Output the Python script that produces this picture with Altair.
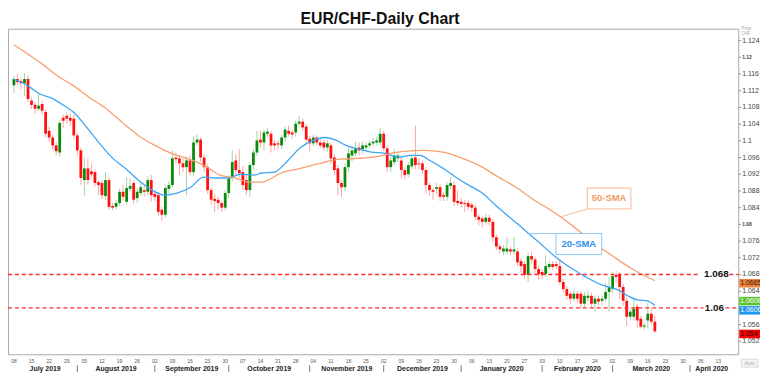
import altair as alt
import pandas as pd

# ---------------- data ----------------
opens = [
    1.1133, 1.1148, 1.1143, 1.1138, 1.1148, 1.1096, 1.1086, 1.1077, 1.1088, 1.1069,
    1.1024, 1.1008, 1.0989, 1.0972, 1.1055, 1.1060, 1.1055, 1.1053, 1.1013, 1.0977,
    1.0906, 1.0934, 1.0927, 1.0925, 1.0901, 1.0899, 1.0868, 1.0906, 1.0844, 1.0842,
    1.0851, 1.0878, 1.0854, 1.0885, 1.0899, 1.0863, 1.0875, 1.0882, 1.0878, 1.0906,
    1.0873, 1.0870, 1.0835, 1.0823, 1.0885, 1.0894, 1.0960, 1.0958, 1.0946, 1.0937,
    1.0953, 1.0925, 1.0996, 1.1003, 1.0960, 1.0937, 1.0882, 1.0861, 1.0859, 1.0851,
    1.0840, 1.0875, 1.0911, 1.0953, 1.0930, 1.0925, 1.0906, 1.0882, 1.0942, 1.0972,
    1.1003, 1.0996, 1.1017, 1.1017, 1.0994, 1.0994, 1.0989, 1.1008, 1.1024, 1.1020,
    1.1020, 1.1041, 1.1046, 1.1034, 1.1005, 1.0994, 1.1008, 1.0996, 1.0996, 1.0984,
    1.0989, 1.0960, 1.0934, 1.0899, 1.0889, 1.0937, 1.0965, 1.0970, 1.0984, 1.0980,
    1.0984, 1.0989, 1.0994, 1.0996, 1.0996, 1.1017, 1.0982, 1.0937, 1.0949, 1.0958,
    1.0953, 1.0930, 1.0920, 1.0939, 1.0960, 1.0946, 1.0946, 1.0930, 1.0894, 1.0882,
    1.0885, 1.0889, 1.0870, 1.0866, 1.0892, 1.0894, 1.0856, 1.0854, 1.0851, 1.0851,
    1.0847, 1.0840, 1.0818, 1.0814, 1.0806, 1.0816, 1.0806, 1.0769, 1.0747, 1.0735,
    1.0735, 1.0740, 1.0735, 1.0735, 1.0712, 1.0705, 1.0679, 1.0724, 1.0716, 1.0693,
    1.0686, 1.0681, 1.0698, 1.0705, 1.0705, 1.0700, 1.0662, 1.0645, 1.0634, 1.0622,
    1.0634, 1.0634, 1.0610, 1.0624, 1.0629, 1.0610, 1.0622, 1.0617, 1.0622, 1.0638,
    1.0645, 1.0679, 1.0679, 1.0650, 1.0617, 1.0579, 1.0579, 1.0603, 1.0574, 1.0555,
    1.0570, 1.0586, 1.0567,
]
closes = [
    1.1148, 1.1141, 1.1138, 1.1148, 1.1100, 1.1086, 1.1077, 1.1084, 1.1072, 1.1017,
    1.1008, 1.0989, 1.0975, 1.1043, 1.1048, 1.1053, 1.1048, 1.1013, 1.0977, 1.0911,
    1.0934, 1.0906, 1.0920, 1.0899, 1.0894, 1.0870, 1.0906, 1.0842, 1.0840, 1.0851,
    1.0878, 1.0866, 1.0887, 1.0892, 1.0859, 1.0878, 1.0889, 1.0878, 1.0906, 1.0870,
    1.0866, 1.0830, 1.0823, 1.0887, 1.0894, 1.0958, 1.0956, 1.0946, 1.0937, 1.0953,
    1.0925, 1.0996, 1.1003, 1.0960, 1.0937, 1.0882, 1.0859, 1.0856, 1.0851, 1.0840,
    1.0875, 1.0911, 1.0949, 1.0930, 1.0923, 1.0894, 1.0882, 1.0942, 1.0972, 1.1001,
    1.0996, 1.1020, 1.1022, 1.0989, 1.0989, 1.0991, 1.1008, 1.1027, 1.1017, 1.1015,
    1.1041, 1.1046, 1.1032, 1.1003, 1.0994, 1.1008, 1.0996, 1.0989, 1.0984, 1.0994,
    1.0958, 1.0930, 1.0899, 1.0889, 1.0937, 1.0970, 1.0977, 1.0982, 1.0977, 1.0989,
    1.0989, 1.0994, 1.0998, 1.1001, 1.1017, 1.0982, 1.0937, 1.0953, 1.0965, 1.0965,
    1.0930, 1.0918, 1.0942, 1.0958, 1.0942, 1.0944, 1.0930, 1.0894, 1.0882, 1.0878,
    1.0889, 1.0866, 1.0866, 1.0894, 1.0899, 1.0854, 1.0851, 1.0849, 1.0849, 1.0842,
    1.0840, 1.0818, 1.0811, 1.0806, 1.0816, 1.0806, 1.0769, 1.0747, 1.0740, 1.0742,
    1.0742, 1.0735, 1.0740, 1.0709, 1.0700, 1.0679, 1.0724, 1.0716, 1.0693, 1.0681,
    1.0679, 1.0700, 1.0705, 1.0698, 1.0700, 1.0662, 1.0645, 1.0629, 1.0622, 1.0634,
    1.0622, 1.0610, 1.0629, 1.0629, 1.0610, 1.0622, 1.0615, 1.0622, 1.0638, 1.0650,
    1.0676, 1.0674, 1.0650, 1.0617, 1.0579, 1.0591, 1.0598, 1.0570, 1.0555, 1.0558,
    1.0586, 1.0567, 1.0544,
]
highs = [
    1.1155, 1.1160, 1.1150, 1.1162, 1.1157, 1.1103, 1.1093, 1.1115, 1.1096, 1.1076,
    1.1034, 1.1015, 1.0996, 1.1050, 1.1062, 1.1067, 1.1065, 1.1062, 1.1020, 1.0984,
    1.0960, 1.0958, 1.0946, 1.0932, 1.0906, 1.0906, 1.0925, 1.0913, 1.0851, 1.0858,
    1.0885, 1.0894, 1.0913, 1.0910, 1.0906, 1.0887, 1.0899, 1.0892, 1.0915, 1.0918,
    1.0880, 1.0877, 1.0842, 1.0894, 1.0903, 1.0977, 1.0972, 1.0965, 1.0958, 1.0962,
    1.0965, 1.1010, 1.1015, 1.1008, 1.0968, 1.0944, 1.0889, 1.0873, 1.0866, 1.0856,
    1.0882, 1.0918, 1.0977, 1.0968, 1.0980, 1.0939, 1.0920, 1.0949, 1.0980, 1.1024,
    1.1024, 1.1027, 1.1031, 1.1024, 1.1003, 1.1001, 1.1015, 1.1034, 1.1036, 1.1027,
    1.1048, 1.1060, 1.1053, 1.1041, 1.1013, 1.1015, 1.1013, 1.1003, 1.1003, 1.1001,
    1.0996, 1.0968, 1.0942, 1.0906, 1.0946, 1.0984, 1.0989, 1.0998, 1.0996, 1.0998,
    1.0998, 1.1001, 1.1008, 1.1010, 1.1031, 1.1024, 1.0989, 1.0962, 1.0980, 1.0975,
    1.0960, 1.0937, 1.0949, 1.0965, 1.1036, 1.0958, 1.0953, 1.0937, 1.0899, 1.0887,
    1.0899, 1.0896, 1.0877, 1.0901, 1.0913, 1.0903, 1.0882, 1.0863, 1.0858, 1.0858,
    1.0854, 1.0847, 1.0825, 1.0821, 1.0825, 1.0823, 1.0813, 1.0776, 1.0754, 1.0750,
    1.0769, 1.0747, 1.0769, 1.0742, 1.0719, 1.0712, 1.0733, 1.0735, 1.0721, 1.0700,
    1.0693, 1.0726, 1.0712, 1.0712, 1.0712, 1.0716, 1.0669, 1.0652, 1.0641, 1.0645,
    1.0641, 1.0641, 1.0638, 1.0641, 1.0636, 1.0629, 1.0629, 1.0629, 1.0660, 1.0674,
    1.0685, 1.0688, 1.0686, 1.0657, 1.0624, 1.0598, 1.0622, 1.0610, 1.0581, 1.0565,
    1.0612, 1.0598, 1.0581,
]
lows = [
    1.1115, 1.1133, 1.1124, 1.1107, 1.1093, 1.1076, 1.1065, 1.1072, 1.1063, 1.1008,
    1.0998, 1.0979, 1.0965, 1.0963, 1.1031, 1.1041, 1.1036, 1.1003, 1.0965, 1.0895,
    1.0868, 1.0896, 1.0913, 1.0890, 1.0870, 1.0861, 1.0858, 1.0835, 1.0833, 1.0835,
    1.0844, 1.0856, 1.0847, 1.0878, 1.0847, 1.0851, 1.0868, 1.0866, 1.0870, 1.0854,
    1.0856, 1.0821, 1.0809, 1.0816, 1.0873, 1.0887, 1.0944, 1.0918, 1.0925, 1.0870,
    1.0918, 1.0918, 1.0989, 1.0951, 1.0925, 1.0873, 1.0847, 1.0830, 1.0835, 1.0830,
    1.0833, 1.0863, 1.0903, 1.0920, 1.0913, 1.0882, 1.0870, 1.0866, 1.0932, 1.0965,
    1.0984, 1.0977, 1.1008, 1.0972, 1.0977, 1.0980, 1.0980, 1.0998, 1.1010, 1.1005,
    1.1010, 1.1034, 1.1024, 1.0996, 1.0975, 1.0987, 1.0989, 1.0982, 1.0977, 1.0975,
    1.0944, 1.0918, 1.0870, 1.0866, 1.0880, 1.0925, 1.0951, 1.0963, 1.0965, 1.0970,
    1.0975, 1.0982, 1.0987, 1.0989, 1.0989, 1.0975, 1.0925, 1.0925, 1.0941, 1.0949,
    1.0910, 1.0908, 1.0913, 1.0932, 1.0932, 1.0932, 1.0920, 1.0875, 1.0868, 1.0859,
    1.0873, 1.0856, 1.0856, 1.0856, 1.0885, 1.0844, 1.0844, 1.0840, 1.0830, 1.0833,
    1.0830, 1.0811, 1.0797, 1.0792, 1.0799, 1.0797, 1.0759, 1.0738, 1.0731, 1.0726,
    1.0728, 1.0726, 1.0728, 1.0700, 1.0686, 1.0669, 1.0662, 1.0707, 1.0683, 1.0667,
    1.0669, 1.0674, 1.0690, 1.0690, 1.0693, 1.0655, 1.0636, 1.0619, 1.0610, 1.0615,
    1.0612, 1.0600, 1.0600, 1.0615, 1.0603, 1.0591, 1.0605, 1.0607, 1.0615, 1.0591,
    1.0636, 1.0660, 1.0622, 1.0605, 1.0556, 1.0570, 1.0570, 1.0553, 1.0551, 1.0548,
    1.0551, 1.0560, 1.0539,
]

# moving averages (trading-day index, price)
sma20_idx = [0, 4.1, 7.4, 10.5, 14.3, 17.1, 20.7, 24.3, 28.1, 31.7,
             35.3, 39.2, 42.8, 46.3, 50.2, 53.8, 57.4, 61.2, 64.0, 68.4,
             70.3, 73.9, 77.8, 81.4, 85.0, 88.3, 91.6, 94.3, 97.9, 101.5,
             105.4, 109.0, 112.6, 115.3, 118.1, 121.9, 125.5, 129.1, 133.0, 136.6,
             142.9, 148.4, 155.0, 160.6, 166.9, 171.6, 174.3, 177.1, 179.9, 182]
sma20_val = [1.1148, 1.1131, 1.1112, 1.1103, 1.1084, 1.1067, 1.1032, 1.0994, 1.0958, 1.0934,
             1.0906, 1.0882, 1.0870, 1.0875, 1.0889, 1.0913, 1.0911, 1.0911, 1.0920, 1.0918,
             1.0923, 1.0925, 1.0953, 1.0984, 1.1001, 1.1008, 1.1001, 1.0989, 1.0980, 1.0973,
             1.0970, 1.0961, 1.0965, 1.0965, 1.0953, 1.0934, 1.0913, 1.0894, 1.0875, 1.0847,
             1.0802, 1.0762, 1.0714, 1.0683, 1.0655, 1.0643, 1.0629, 1.0619, 1.0617, 1.0606]
sma50_idx = [0, 4.1, 7.7, 12.4, 17.1, 21.5, 26.2, 30.9, 35.3, 40.0,
             44.7, 49.1, 53.8, 58.5, 62.9, 66.8, 70.3, 75.9, 81.4, 86.9,
             92.4, 97.9, 103.4, 107.0, 110.9, 116.4, 121.9, 127.4, 133.0, 136.6,
             142.9, 147.6, 153.1, 158.6, 164.1, 169.7, 175.2, 182]
sma50_val = [1.1230, 1.1207, 1.1186, 1.1155, 1.1131, 1.1103, 1.1077, 1.1043, 1.1013, 1.0989,
             1.0970, 1.0958, 1.0942, 1.0918, 1.0911, 1.0901, 1.0901, 1.0923, 1.0934, 1.0946,
             1.0956, 1.0958, 1.0963, 1.0970, 1.0975, 1.0977, 1.0973, 1.0958, 1.0937, 1.0918,
             1.0887, 1.0859, 1.0830, 1.0797, 1.0759, 1.0726, 1.0695, 1.0665]

y_ticks = [1.052, 1.056, 1.060, 1.064, 1.068, 1.072, 1.076, 1.080, 1.084, 1.088,
           1.092, 1.096, 1.100, 1.104, 1.108, 1.112, 1.116, 1.120, 1.124]
# label shown next to each tick ("" where a price tag covers it)
y_tick_labels = ["1.052", "1.056", "", "1.064", "1.068", "1.072", "1.076", "1.08",
                 "1.084", "1.088", "1.092", "1.096", "1.1", "1.104", "1.108", "1.112",
                 "1.116", "1.12", "1.124"]
y_tick_small_bold = [False, False, False, False, False, False, False, True,
                     False, False, False, False, False, False, False, False,
                     False, True, False]
levels = [1.068, 1.06]
level_labels = ["1.068", "1.06"]

tag_values = [1.0665, 1.0608, 1.0606, 1.054]
tag_texts = ["1.0665", "1.0608", "1.0606", "1.054"]

title_text = "EUR/CHF-Daily Chart"

# annotation boxes (trading-day index / price)
ann_names = ["50-SMA", "20-SMA"]
ann_x = [162.8, 153.9]
ann_x2 = [175.2, 166.9]
ann_y = [1.0837, 1.0728]
ann_y2 = [1.0887, 1.0778]
lead_x = [162.8, 145.7]
lead_x2 = [155.3, 153.9]
lead_y = [1.0837, 1.0778]
lead_y2 = [1.0818, 1.0778]

# ---------------- layout ----------------
W, H = 738, 329
X_DOM = [-0.28, 204.27]
Y_DOM = [1.0489, 1.12684]
GREEN, RED = "#0a8a0a", "#ff1010"
GREEN_W, RED_W = "#a3d4a3", "#ffa3a3"
ORANGE, BLUE = "#f7a06e", "#3da5f4"

dates = pd.bdate_range("2019-07-08", periods=205)
n = len(opens)
candles = pd.DataFrame({"i": list(range(n)), "open": opens, "high": highs,
                        "low": lows, "close": closes})

xs = alt.Scale(domain=X_DOM, nice=False, zero=False)
ys = alt.Scale(domain=Y_DOM, nice=False, zero=False)

mondays = [k for k in range(len(dates)) if dates[k].weekday() == 0]
week_df = pd.DataFrame({"i": mondays, "lab": [dates[k].strftime("%d") for k in mondays]})
m_starts = [k for k in range(1, len(dates)) if dates[k].month != dates[k - 1].month]
bounds = [X_DOM[0]] + m_starts + [X_DOM[1]]
month_first = [0] + m_starts
month_df = pd.DataFrame({
    "c": [(bounds[j] + bounds[j + 1]) / 2 for j in range(len(bounds) - 1)],
    "lab": [dates[k].strftime("%B %Y") for k in month_first],
})
sep_df = pd.DataFrame({"i": m_starts})
tick_df = pd.DataFrame({"v": y_ticks, "t": y_tick_labels, "b": y_tick_small_bold})

up = "datum.close >= datum.open"

wicks = alt.Chart(candles).mark_rule(strokeWidth=1).encode(
    x=alt.X("i:Q", scale=xs, axis=alt.Axis(values=mondays, grid=True, gridColor="#e2e2e2",
                                            labels=False, ticks=True, tickSize=3,
                                            tickColor="#b0b0b0", domain=False, title=None)),
    y=alt.Y("low:Q", scale=ys, axis=alt.Axis(orient="right", values=y_ticks, grid=True,
                                             gridColor="#e2e2e2", ticks=False, labels=False,
                                             domain=False, title=None)),
    y2="high:Q",
    color=alt.condition(up, alt.value(GREEN_W), alt.value(RED_W)),
)
bodies = alt.Chart(candles).mark_bar(size=2.8).encode(
    x=alt.X("i:Q", scale=xs, axis=None),
    y=alt.Y("open:Q", scale=ys, axis=None),
    y2="close:Q",
    color=alt.condition(up, alt.value(GREEN), alt.value(RED)),
)

sma20 = alt.Chart(pd.DataFrame({"i": sma20_idx, "v": sma20_val})).mark_line(
    color=BLUE, strokeWidth=1.3, interpolate="monotone").encode(
    x=alt.X("i:Q", scale=xs, axis=None), y=alt.Y("v:Q", scale=ys, axis=None))
sma50 = alt.Chart(pd.DataFrame({"i": sma50_idx, "v": sma50_val})).mark_line(
    color=ORANGE, strokeWidth=1.3, interpolate="monotone").encode(
    x=alt.X("i:Q", scale=xs, axis=None), y=alt.Y("v:Q", scale=ys, axis=None))

layers = [wicks, bodies, sma20, sma50]

# right price axis: ticks and labels
layers.append(alt.Chart(tick_df).mark_rule(color="#999", strokeWidth=1).encode(
    y=alt.Y("v:Q", scale=ys, axis=None), x=alt.value(W), x2=alt.value(W + 3)))
layers.append(alt.Chart(tick_df).transform_filter("!datum.b && datum.t != ''").mark_text(
    fontSize=7, color="#444", align="left", baseline="middle").encode(
    y=alt.Y("v:Q", scale=ys, axis=None), x=alt.value(W + 4), text="t:N"))
layers.append(alt.Chart(tick_df).transform_filter("datum.b").mark_text(
    fontSize=5, fontWeight="bold", color="#444", align="left", baseline="middle").encode(
    y=alt.Y("v:Q", scale=ys, axis=None), x=alt.value(W + 4), text="t:N"))

# dashed support/resistance lines with labels
gaps = [(700, 729), (703, 725)]
label_x = [716, 714]
for lv, lab, (g0, g1), lx in zip(levels, level_labels, gaps, label_x):
    ldf = pd.DataFrame({"v": [lv], "t": [lab]})
    for a, b in [(0, g0), (g1, W)]:
        layers.append(alt.Chart(ldf).mark_rule(color="#ff2a2a", strokeWidth=1.4,
                                               strokeDash=[4, 3]).encode(
            y=alt.Y("v:Q", scale=ys, axis=None), x=alt.value(a), x2=alt.value(b)))
    layers.append(alt.Chart(ldf).mark_text(fontSize=10, fontWeight="bold", color="#111",
                                           align="center", baseline="middle").encode(
        y=alt.Y("v:Q", scale=ys, axis=None), x=alt.value(lx), text="t:N"))

# annotation boxes
ann_df = pd.DataFrame({"name": ann_names, "x": ann_x, "x2": ann_x2, "y": ann_y, "y2": ann_y2,
                       "lx": lead_x, "lx2": lead_x2, "ly": lead_y, "ly2": lead_y2,
                       "cx": [(a + b) / 2 for a, b in zip(ann_x, ann_x2)],
                       "cy": [(a + b) / 2 for a, b in zip(ann_y, ann_y2)]})
ann_cols = [("#f6b690", "#f29a62"), ("#8fc6f3", "#2f8ff0")]
for k, (bc, tc) in enumerate(ann_cols):
    row = ann_df.iloc[[k]]
    layers.append(alt.Chart(row).mark_rule(color=bc, strokeWidth=1).encode(
        x=alt.X("lx:Q", scale=xs, axis=None), x2="lx2:Q",
        y=alt.Y("ly:Q", scale=ys, axis=None), y2="ly2:Q"))
    layers.append(alt.Chart(row).mark_rect(fill="white", stroke=bc, strokeWidth=1).encode(
        x=alt.X("x:Q", scale=xs, axis=None), x2="x2:Q",
        y=alt.Y("y:Q", scale=ys, axis=None), y2="y2:Q"))
    layers.append(alt.Chart(row).mark_text(fontSize=9.5, fontWeight="bold", color=tc,
                                           align="center", baseline="middle").encode(
        x=alt.X("cx:Q", scale=xs, axis=None), y=alt.Y("cy:Q", scale=ys, axis=None),
        text="name:N"))

# price tags on the right
tag_fill = ["#ef7f3a", "#5cc42c", "#1f95ee", "#ff0000"]
tag_txt = ["#3a1a00", "#ffffff", "#ffffff", "#111111"]
tag_shift = [2.5, -3.5, 5, 1]
for v, t, f, tc, s in zip(tag_values, tag_texts, tag_fill, tag_txt, tag_shift):
    tdf = pd.DataFrame({"v": [v], "t": [t]})
    layers.append(alt.Chart(tdf).mark_rect(color=f, yOffset=s - 4.3, y2Offset=s + 4.3).encode(
        y=alt.Y("v:Q", scale=ys, axis=None), y2="v:Q",
        x=alt.value(739), x2=alt.value(764)))
    layers.append(alt.Chart(tdf).mark_text(fontSize=7, color=tc, align="left",
                                           baseline="middle", dy=s).encode(
        y=alt.Y("v:Q", scale=ys, axis=None), x=alt.value(740), text="t:N"))

# x-axis labels
layers.append(alt.Chart(week_df).mark_text(fontSize=5, color="#555", baseline="middle").encode(
    x=alt.X("i:Q", scale=xs, axis=None), y=alt.value(H + 7), text="lab:N"))
layers.append(alt.Chart(month_df).mark_text(fontSize=7, fontWeight="bold", color="#222",
                                            baseline="middle").encode(
    x=alt.X("c:Q", scale=xs, axis=None), y=alt.value(H + 15), text="lab:N"))
layers.append(alt.Chart(sep_df).mark_rule(color="#777", strokeWidth=1).encode(
    x=alt.X("i:Q", scale=xs, axis=None), y=alt.value(H + 11), y2=alt.value(H + 18)))

# title and small texts
misc = pd.DataFrame({"t": [title_text]})
layers.append(alt.Chart(misc).mark_text(fontSize=16, fontWeight="bold", color="#111",
                                        align="center", baseline="top").encode(
    text="t:N", x=alt.value(376), y=alt.value(-18)))
layers.append(alt.Chart(pd.DataFrame({"t": ["Price", "CHF"], "y": [0.5, 5]})).mark_text(
    fontSize=4.5, color="#aaa", align="left", baseline="middle").encode(
    text="t:N", x=alt.value(741), y=alt.Y("y:Q", scale=None)))
layers.append(alt.Chart(pd.DataFrame({"t": ["Auto"]})).mark_rect(
    fill="#f4f4f4", stroke="#ddd").encode(
    x=alt.value(741), x2=alt.value(758), y=alt.value(334), y2=alt.value(342)))
layers.append(alt.Chart(pd.DataFrame({"t": ["Auto"]})).mark_text(
    fontSize=5, color="#aaa", align="center", baseline="middle").encode(
    text="t:N", x=alt.value(749.5), y=alt.value(338)))

chart = alt.layer(*layers).properties(
    width=W, height=H,
    autosize=alt.AutoSizeParams(type="none"),
    padding={"left": 0, "top": 19, "right": 22, "bottom": 18},
).configure(font="Liberation Sans").configure_view(stroke="#a8a8a8", strokeWidth=1)

chart.save("out.html", embed_options={"renderer": "svg", "actions": False})
